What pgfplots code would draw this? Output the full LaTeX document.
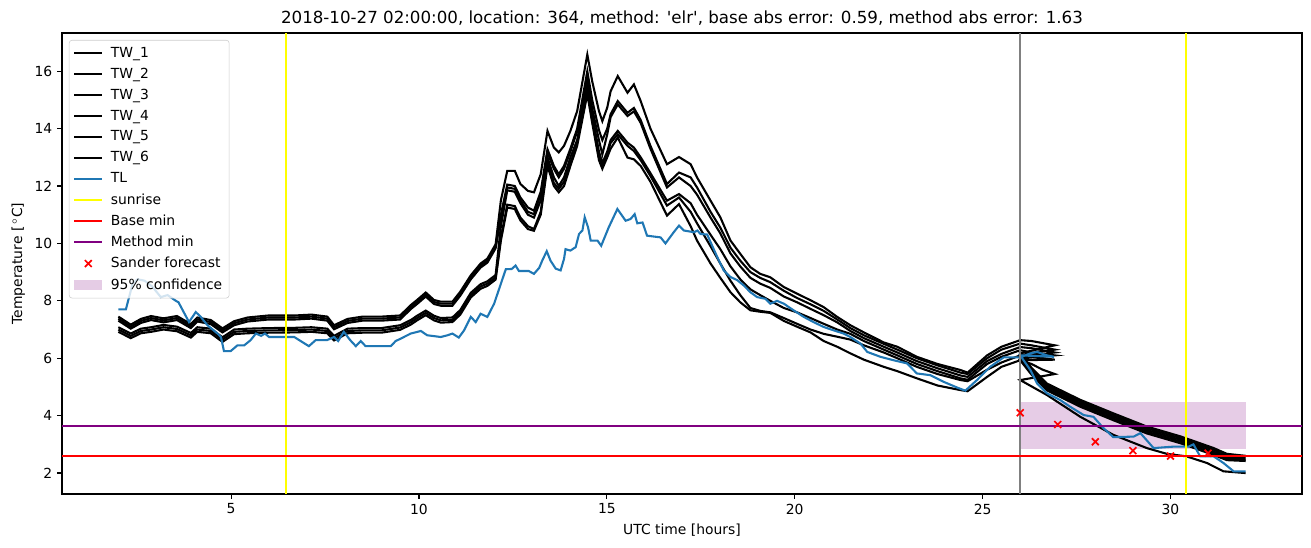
\documentclass[border=0pt]{standalone}
\usepackage{fontspec}
\setmainfont{DejaVu Sans}
\usepackage{pgfplots}
\pgfplotsset{compat=1.18}
\definecolor{tlblue}{HTML}{1F77B4}
\definecolor{mplpurple}{HTML}{800080}
\definecolor{mplgray}{HTML}{808080}
\definecolor{mplyellow}{HTML}{FFFF00}
\definecolor{mplred}{HTML}{FF0000}
\begin{document}
\begin{tikzpicture}
\path[use as bounding box] (-44.64pt,-38.16pt) rectangle (899.28pt,355.68pt);
\begin{axis}[
  at={(0pt,0pt)}, anchor=south west,
  width=892.8pt, height=331.9pt, scale only axis,
  xmin=0.5, xmax=33.5, ymin=1.27, ymax=17.33,
  xtick={5,10,15,20,25,30}, ytick={2,4,6,8,10,12,14,16},
  tick align=outside, xtick pos=bottom, ytick pos=left,
  major tick length=3.5pt,
  tick style={line width=0.8pt, black},
  axis line style={line width=0.8pt},
  tick label style={font=\fontsize{10}{12}\selectfont},
  /pgf/number format/assume math mode=true,
  xlabel={UTC time [hours]}, ylabel={Temperature [\,$^\circ$C]},
  label style={font=\fontsize{10}{12}\selectfont},
  title={2018-10-27 02:00:00, location: 364, method: \textquotesingle elr\textquotesingle, base abs error: 0.59, method abs error: 1.63},
  title style={font=\fontsize{12}{14}\selectfont, yshift=-4.3pt},
  legend cell align=left,
  legend style={at={(0,1)}, anchor=north west, xshift=5pt, yshift=-5pt,
    font=\fontsize{10}{12}\selectfont, draw=black!20, rounded corners=2pt,
    fill=white, fill opacity=0.8, text opacity=1, row sep=2.2pt,
    inner xsep=3pt, inner ysep=3pt,
    /tikz/every odd column/.append style={column sep=3.5pt}},
  legend image code/.code={\draw[mark repeat=2,mark phase=2,#1] plot coordinates {(0pt,0pt) (10pt,0pt) (20pt,0pt)};},
]
% confidence band
\addplot[draw=none, fill=mplpurple, fill opacity=0.2, forget plot] coordinates {(26,2.84) (32,2.84) (32,4.47) (26,4.47)} -- cycle;

% TW_1
\addplot[black, line width=1.5pt] coordinates {
(2.0,7.45)(2.33,7.17)(2.6,7.37)(2.87,7.47)(3.2,7.39)(3.56,7.47)(3.93,7.19)(4.1,7.42)(4.46,7.33)(4.77,7.04)(5.08,7.29)(5.44,7.42)(6.0,7.49)(6.7,7.49)(7.14,7.52)(7.56,7.45)(7.74,7.15)(8.1,7.37)(8.5,7.45)(9.0,7.45)(9.5,7.49)(9.78,7.85)(9.95,8.03)(10.18,8.29)(10.4,8.03)(10.58,7.97)(10.89,7.97)(11.1,8.32)(11.38,8.89)(11.64,9.3)(11.82,9.47)(12.04,9.97)(12.18,11.5)(12.35,12.53)(12.55,12.53)(12.7,12.07)(12.9,11.83)(13.06,11.78)(13.24,12.41)(13.42,13.92)(13.59,13.34)(13.72,13.17)(13.86,13.4)(14.03,13.92)(14.21,14.61)(14.48,16.58)(14.61,15.65)(14.79,14.61)(14.88,14.26)(15.01,14.73)(15.1,15.3)(15.29,15.83)(15.55,15.25)(15.72,15.54)(15.9,14.96)(16.16,14.0)(16.6,12.76)(16.92,13.01)(17.23,12.76)(17.4,12.3)(17.76,11.49)(18.02,10.91)(18.29,10.1)(18.55,9.64)(18.82,9.17)(19.08,8.94)(19.35,8.82)(19.71,8.48)(20.06,8.25)(20.42,8.02)(20.77,7.78)(21.13,7.44)(21.48,7.15)(21.84,6.9)(22.37,6.55)(22.73,6.4)(23.25,6.05)(23.8,5.8)(24.41,5.59)(24.6,5.5)(25.12,6.1)(25.5,6.4)(26.0,6.63)(26.3,6.6)(26.92,6.45)
(26.0,6.17)(26.3,5.67)(26.71,5.12)(27.6,4.55)(28.48,4.08)(29.37,3.62)(30.26,3.28)(30.5,3.17)(31.15,2.87)(31.5,2.67)(32.0,2.6)};
\addlegendentry{TW\_1}
% TW_2
\addplot[black, line width=1.5pt] coordinates {
(2.0,7.38)(2.33,7.1)(2.6,7.3)(2.87,7.4)(3.2,7.32)(3.56,7.4)(3.93,7.12)(4.1,7.35)(4.46,7.26)(4.77,6.97)(5.08,7.22)(5.44,7.35)(6.0,7.42)(6.7,7.42)(7.14,7.45)(7.56,7.38)(7.74,7.08)(8.1,7.3)(8.5,7.38)(9.0,7.38)(9.5,7.42)(9.78,7.78)(9.95,7.96)(10.18,8.22)(10.4,7.96)(10.58,7.9)(10.89,7.9)(11.1,8.25)(11.38,8.82)(11.64,9.23)(11.82,9.4)(12.04,9.9)(12.18,11.0)(12.35,12.05)(12.55,12.0)(12.7,11.6)(12.9,11.25)(13.06,11.14)(13.24,11.8)(13.42,13.28)(13.59,12.7)(13.72,12.41)(13.86,12.7)(14.03,13.3)(14.21,14.0)(14.48,16.0)(14.61,15.0)(14.79,13.95)(14.88,13.6)(15.01,14.0)(15.1,14.5)(15.29,14.96)(15.55,14.55)(15.72,14.72)(15.9,14.3)(16.16,13.4)(16.6,12.07)(16.92,12.47)(17.23,12.3)(17.4,11.95)(17.76,11.1)(18.02,10.55)(18.29,9.85)(18.55,9.4)(18.82,9.0)(19.08,8.8)(19.35,8.65)(19.71,8.35)(20.06,8.1)(20.42,7.88)(20.77,7.65)(21.13,7.35)(21.48,7.05)(21.84,6.8)(22.37,6.5)(22.73,6.3)(23.25,6.0)(23.8,5.75)(24.41,5.5)(24.6,5.45)(25.12,6.0)(25.5,6.3)(26.0,6.51)(26.3,6.45)(26.92,6.3)
(26.0,6.11)(26.3,5.61)(26.71,5.06)(27.6,4.49)(28.48,4.02)(29.37,3.56)(30.26,3.22)(30.5,3.11)(31.15,2.81)(31.5,2.61)(32.0,2.55)};
\addlegendentry{TW\_2}
% TW_3
\addplot[black, line width=1.5pt] coordinates {
(2.0,7.31)(2.33,7.03)(2.6,7.23)(2.87,7.33)(3.2,7.25)(3.56,7.33)(3.93,7.05)(4.1,7.28)(4.46,7.19)(4.77,6.9)(5.08,7.15)(5.44,7.28)(6.0,7.35)(6.7,7.35)(7.14,7.38)(7.56,7.31)(7.74,7.01)(8.1,7.23)(8.5,7.31)(9.0,7.31)(9.5,7.35)(9.78,7.71)(9.95,7.89)(10.18,8.15)(10.4,7.89)(10.58,7.83)(10.89,7.83)(11.1,8.18)(11.38,8.75)(11.64,9.16)(11.82,9.33)(12.04,9.83)(12.18,10.9)(12.35,11.95)(12.55,11.9)(12.7,11.5)(12.9,11.1)(13.06,11.02)(13.24,11.7)(13.42,13.16)(13.59,12.6)(13.72,12.3)(13.86,12.6)(14.03,13.2)(14.21,13.9)(14.48,15.71)(14.61,14.7)(14.79,13.6)(14.88,13.1)(15.01,13.8)(15.1,14.4)(15.29,14.84)(15.55,14.44)(15.72,14.6)(15.9,14.2)(16.16,13.3)(16.6,11.95)(16.92,12.3)(17.23,12.0)(17.4,11.7)(17.76,10.9)(18.02,10.35)(18.29,9.65)(18.55,9.2)(18.82,8.8)(19.08,8.6)(19.35,8.45)(19.71,8.15)(20.06,7.95)(20.42,7.72)(20.77,7.5)(21.13,7.25)(21.48,6.95)(21.84,6.7)(22.37,6.4)(22.73,6.2)(23.25,5.9)(23.8,5.65)(24.41,5.4)(24.6,5.35)(25.12,5.9)(25.5,6.15)(26.0,6.39)(26.3,6.35)(26.92,6.2)
(26.0,6.05)(26.3,5.55)(26.71,5.0)(27.6,4.43)(28.48,3.96)(29.37,3.5)(30.26,3.16)(30.5,3.05)(31.15,2.75)(31.5,2.55)(32.0,2.5)};
\addlegendentry{TW\_3}
% TW_4
\addplot[black, line width=1.5pt] coordinates {
(2.0,7.08)(2.33,6.86)(2.6,7.03)(2.87,7.08)(3.2,7.16)(3.56,7.1)(3.93,6.88)(4.1,7.08)(4.46,7.03)(4.77,6.73)(5.08,7.0)(5.44,7.03)(6.0,7.05)(6.7,7.06)(7.14,7.08)(7.56,7.03)(7.74,6.78)(8.1,7.03)(8.5,7.05)(9.0,7.05)(9.5,7.15)(9.78,7.33)(9.95,7.48)(10.18,7.66)(10.4,7.48)(10.58,7.4)(10.89,7.42)(11.1,7.68)(11.38,8.28)(11.64,8.58)(11.82,8.68)(12.04,8.9)(12.18,10.6)(12.35,11.85)(12.55,11.8)(12.7,11.4)(12.9,11.0)(13.06,10.9)(13.24,11.5)(13.42,13.0)(13.59,12.3)(13.72,12.0)(13.86,12.3)(14.03,13.0)(14.21,13.6)(14.48,15.48)(14.61,14.5)(14.79,13.2)(14.88,12.8)(15.01,13.2)(15.1,13.6)(15.29,13.92)(15.55,13.51)(15.72,13.34)(15.9,13.0)(16.16,12.45)(16.6,11.49)(16.92,11.72)(17.23,11.4)(17.4,11.0)(17.76,10.3)(18.02,9.8)(18.29,9.2)(18.55,8.75)(18.82,8.4)(19.08,8.2)(19.35,8.0)(19.71,7.75)(20.06,7.6)(20.42,7.4)(20.77,7.2)(21.13,7.0)(21.48,6.85)(21.84,6.6)(22.37,6.3)(22.73,6.1)(23.25,5.8)(23.8,5.55)(24.41,5.3)(24.6,5.25)(25.12,5.8)(25.5,6.05)(26.0,6.28)(26.3,6.2)(26.92,6.1)
(26.0,5.99)(26.3,5.49)(26.71,4.94)(27.6,4.37)(28.48,3.9)(29.37,3.44)(30.26,3.1)(30.5,2.99)(31.15,2.69)(31.5,2.5)(32.0,2.45)};
\addlegendentry{TW\_4}
% TW_5
\addplot[black, line width=1.5pt] coordinates {
(2.0,7.0)(2.33,6.78)(2.6,6.95)(2.87,7.0)(3.2,7.08)(3.56,7.02)(3.93,6.8)(4.1,7.0)(4.46,6.95)(4.77,6.65)(5.08,6.92)(5.44,6.95)(6.0,6.97)(6.7,6.98)(7.14,7.0)(7.56,6.95)(7.74,6.7)(8.1,6.95)(8.5,6.97)(9.0,6.97)(9.5,7.07)(9.78,7.25)(9.95,7.4)(10.18,7.58)(10.4,7.4)(10.58,7.32)(10.89,7.34)(11.1,7.6)(11.38,8.2)(11.64,8.5)(11.82,8.6)(12.04,8.82)(12.18,10.2)(12.35,11.35)(12.55,11.3)(12.7,10.9)(12.9,10.6)(13.06,10.5)(13.24,11.1)(13.42,12.87)(13.59,12.1)(13.72,11.9)(13.86,12.15)(14.03,12.8)(14.21,13.5)(14.48,15.3)(14.61,14.3)(14.79,13.0)(14.88,12.7)(15.01,13.1)(15.1,13.5)(15.29,13.8)(15.55,13.4)(15.72,13.22)(15.9,12.9)(16.16,12.35)(16.6,11.32)(16.92,11.6)(17.23,11.1)(17.4,10.7)(17.76,9.9)(18.02,9.3)(18.29,8.7)(18.55,8.2)(18.82,7.75)(19.08,7.65)(19.35,7.6)(19.71,7.4)(20.06,7.2)(20.42,7.0)(20.77,6.85)(21.13,6.75)(21.48,6.65)(21.84,6.45)(22.37,6.2)(22.73,6.0)(23.25,5.7)(23.8,5.45)(24.41,5.24)(24.6,5.2)(25.12,5.6)(25.5,5.85)(26.0,6.1)(26.3,6.05)(26.92,5.95)
(26.0,5.93)(26.3,5.43)(26.71,4.88)(27.6,4.31)(28.48,3.84)(29.37,3.38)(30.26,3.04)(30.5,2.93)(31.15,2.63)(31.5,2.45)(32.0,2.42)};
\addlegendentry{TW\_5}
% TW_6
\addplot[black, line width=1.5pt] coordinates {
(2.0,6.92)(2.33,6.7)(2.6,6.87)(2.87,6.92)(3.2,7.0)(3.56,6.94)(3.93,6.72)(4.1,6.92)(4.46,6.87)(4.77,6.57)(5.08,6.84)(5.44,6.87)(6.0,6.89)(6.7,6.9)(7.14,6.92)(7.56,6.87)(7.74,6.62)(8.1,6.87)(8.5,6.89)(9.0,6.89)(9.5,6.99)(9.78,7.17)(9.95,7.32)(10.18,7.5)(10.4,7.32)(10.58,7.24)(10.89,7.26)(11.1,7.52)(11.38,8.12)(11.64,8.42)(11.82,8.52)(12.04,8.74)(12.18,10.1)(12.35,11.25)(12.55,11.2)(12.7,10.8)(12.9,10.5)(13.06,10.44)(13.24,11.0)(13.42,12.7)(13.59,12.0)(13.72,11.78)(13.86,12.0)(14.03,12.7)(14.21,13.4)(14.48,15.2)(14.61,14.2)(14.79,12.9)(14.88,12.6)(15.01,13.0)(15.1,13.3)(15.29,13.69)(15.55,12.99)(15.72,12.93)(15.9,12.7)(16.16,12.15)(16.6,10.97)(16.92,11.37)(17.23,10.6)(17.4,10.1)(17.76,9.3)(18.02,8.8)(18.29,8.3)(18.55,7.95)(18.82,7.67)(19.08,7.62)(19.35,7.58)(19.71,7.3)(20.06,7.1)(20.42,6.9)(20.77,6.6)(21.13,6.4)(21.48,6.17)(21.84,5.95)(22.37,5.7)(22.73,5.55)(23.25,5.3)(23.8,5.05)(24.41,4.89)(24.6,4.85)(25.12,5.35)(25.5,5.7)(26.0,5.93)(26.3,5.8)(26.6,5.6)(26.92,5.45)
(26.0,5.24)(26.71,4.72)(27.6,3.96)(28.48,3.33)(29.37,2.87)(29.9,2.67)(30.43,2.58)(30.97,2.35)(31.41,2.06)(32.0,2.0)};
\addlegendentry{TW\_6}
% TL
\addplot[tlblue, line width=1.5pt] coordinates {
(2.0,7.7)(2.2,7.7)(2.38,8.6)(2.51,8.75)(2.7,8.7)(2.9,8.5)(3.13,8.13)(3.31,8.2)(3.53,8.0)(3.6,7.95)(3.88,7.26)(4.06,7.61)(4.2,7.43)(4.37,7.15)(4.64,6.86)(4.73,6.74)(4.81,6.25)(4.99,6.25)(5.17,6.45)(5.35,6.45)(5.52,6.63)(5.66,6.86)(5.8,6.78)(5.9,6.86)(6.01,6.74)(6.68,6.74)(7.07,6.42)(7.25,6.63)(7.55,6.63)(7.74,6.74)(7.85,6.6)(8.0,6.92)(8.17,6.63)(8.32,6.42)(8.45,6.6)(8.58,6.42)(9.25,6.42)(9.38,6.6)(9.51,6.68)(9.78,6.86)(10.05,6.95)(10.22,6.8)(10.58,6.74)(10.76,6.8)(10.89,6.86)(11.06,6.72)(11.2,6.97)(11.38,7.44)(11.51,7.26)(11.64,7.55)(11.82,7.44)(12.0,7.9)(12.31,9.1)(12.47,9.11)(12.57,9.23)(12.66,9.04)(12.92,9.04)(13.06,8.94)(13.2,9.15)(13.28,9.4)(13.4,9.73)(13.5,9.4)(13.64,9.12)(13.77,9.06)(13.86,9.46)(13.9,9.8)(14.03,9.75)(14.17,9.87)(14.26,10.33)(14.35,10.45)(14.41,10.91)(14.5,10.56)(14.57,10.1)(14.75,10.1)(14.85,9.92)(15.05,10.56)(15.28,11.2)(15.5,10.79)(15.63,10.85)(15.74,11.02)(15.81,10.7)(15.95,10.73)(16.07,10.27)(16.43,10.21)(16.56,10.0)(16.78,10.39)(16.92,10.62)(17.05,10.45)(17.32,10.39)(17.41,10.45)(17.49,10.33)(17.67,10.31)(17.94,9.52)(18.11,9.06)(18.29,8.83)(18.47,8.72)(18.64,8.54)(18.82,8.3)(19.0,8.13)(19.22,8.07)(19.35,7.9)(19.53,8.0)(19.71,7.9)(19.97,7.67)(20.24,7.44)(20.5,7.26)(20.77,7.09)(21.04,6.97)(21.3,6.86)(21.48,6.74)(21.75,6.51)(21.93,6.22)(22.28,6.05)(22.63,5.93)(22.99,5.82)(23.25,5.47)(23.61,5.41)(23.96,5.18)(24.32,4.98)(24.54,4.87)(24.85,5.24)(25.2,5.7)(25.56,6.03)(26.0,6.03)(26.27,6.17)(26.45,6.22)(26.71,6.1)(26.9,6.05)
(26.0,6.1)(26.27,5.59)(26.45,5.12)(26.71,4.78)(27.07,4.54)(27.33,4.31)(27.69,4.02)(27.95,3.96)(28.22,3.56)(28.48,3.25)(29.02,3.27)(29.2,3.39)(29.55,2.87)(30.08,2.92)(30.48,2.92)(30.61,3.0)(30.79,2.58)(31.15,2.58)(31.41,2.35)(31.68,2.06)(32.0,2.06)};
\addlegendentry{TL}
% sunrise
\addplot[mplyellow, line width=1.5pt] coordinates {(6.45,1.27) (6.45,17.33)};
\addlegendentry{sunrise}
\addplot[mplyellow, line width=1.5pt, forget plot] coordinates {(30.41,1.27) (30.41,17.33)};
\addplot[mplgray, line width=1.5pt, forget plot] coordinates {(26.0,1.27) (26.0,17.33)};
% horizontal lines
\addplot[mplred, line width=1.5pt] coordinates {(0.5,2.6) (33.5,2.6)};
\addlegendentry{Base min}
\addplot[mplpurple, line width=1.5pt] coordinates {(0.5,3.63) (33.5,3.63)};
\addlegendentry{Method min}
% forecast markers
\addplot[only marks, mark=x, mark size=3.5pt, mplred, mark options={line width=1.2pt}] coordinates {(26,4.1)(27,3.69)(28,3.09)(29,2.78)(30,2.59)(31,2.69)};
\addlegendentry{Sander forecast}
\addlegendimage{legend image code/.code={\fill[mplpurple, fill opacity=0.2, draw=none, sharp corners] (0pt,-3.5pt) rectangle (20pt,3.5pt);}}
\addlegendentry{95\% confidence}
\end{axis}
\end{tikzpicture}
\end{document}
